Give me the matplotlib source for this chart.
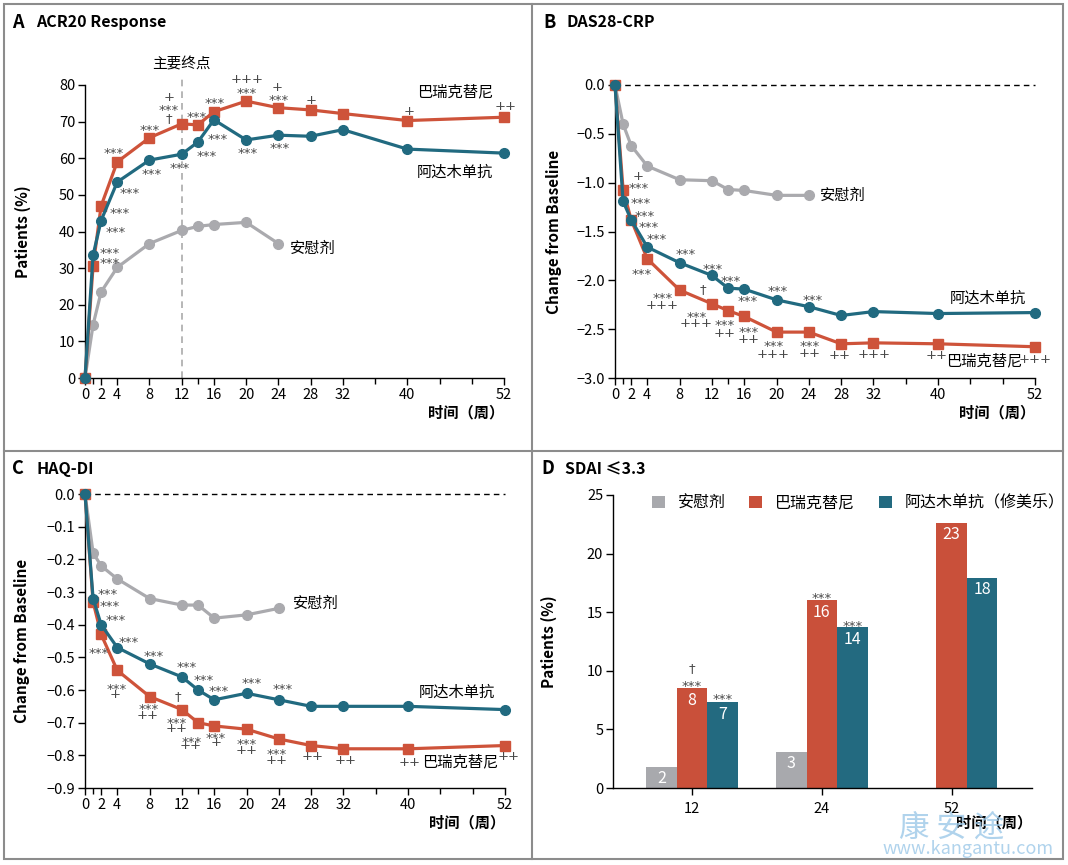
import matplotlib
matplotlib.use("Agg")
import matplotlib.pyplot as plt
from matplotlib.lines import Line2D
from matplotlib.patches import Rectangle
import numpy as np

plt.rcParams['font.family'] = ['Noto Sans CJK SC', 'DejaVu Sans']

# ---------------- data ----------------
weeks = [0, 1, 2, 4, 8, 12, 14, 16, 20, 24, 28, 32, 40, 52]
weeks_pbo = [0, 1, 2, 4, 8, 12, 14, 16, 20, 24]

acr20_bari = [0, 30.5, 47, 59, 65.6, 69.4, 69.1, 72.7, 75.6, 73.8, 73.2, 72.2, 70.3, 71.2]
acr20_ada = [0, 33.5, 43, 53.5, 59.5, 61.1, 64.4, 70.5, 65.0, 66.3, 66.0, 67.8, 62.5, 61.4]
acr20_pbo = [0, 14.5, 23.5, 30.2, 36.7, 40.3, 41.4, 41.9, 42.5, 36.7]

das_bari = [0, -1.07, -1.38, -1.78, -2.10, -2.24, -2.31, -2.37, -2.53, -2.53, -2.65, -2.64, -2.65, -2.68]
das_ada = [0, -1.19, -1.38, -1.66, -1.82, -1.95, -2.08, -2.09, -2.20, -2.27, -2.36, -2.32, -2.34, -2.33]
das_pbo = [0, -0.40, -0.62, -0.83, -0.97, -0.98, -1.07, -1.08, -1.13, -1.13]

haq_bari = [0, -0.33, -0.43, -0.54, -0.62, -0.66, -0.70, -0.71, -0.72, -0.75, -0.77, -0.78, -0.78, -0.77]
haq_ada = [0, -0.32, -0.40, -0.47, -0.52, -0.56, -0.60, -0.63, -0.61, -0.63, -0.65, -0.65, -0.65, -0.66]
haq_pbo = [0, -0.18, -0.22, -0.26, -0.32, -0.34, -0.34, -0.38, -0.37, -0.35]

sdai_weeks = ['12', '24', '52']
sdai_pbo = [1.8, 3.1, np.nan]
sdai_bari = [8.5, 16.0, 22.6]
sdai_ada = [7.3, 13.7, 17.9]
sdai_pbo_lbl = ['2', '3', '']
sdai_bari_lbl = ['8', '16', '23']
sdai_ada_lbl = ['7', '14', '18']

name_pbo = '安慰剂'
name_bari = '巴瑞克替尼'
name_ada = '阿达木单抗'
name_ada_full = '阿达木单抗（修美乐）'

major_ticks = [0, 2, 4, 8, 12, 16, 20, 24, 28, 32, 40, 52]
minor_ticks = [1, 14, 36, 44, 48]

# significance annotations (x, y, text)
ann_A = [(3.6, 62.3, '***'), (5.5, 51.4, '***'), (4.3, 45.9, '***'), (3.8, 40.7, '***'),
         (3.0, 35.0, '***'), (3.0, 32.3, '***'), (8.0, 68.6, '***'), (8.3, 56.5, '***'),
         (10.4, 76.6, '+'), (10.4, 74.1, '***'), (10.4, 70.9, '†'), (11.8, 58.2, '***'),
         (13.9, 72.0, '***'), (15.1, 61.6, '***'), (16.1, 75.9, '***'), (16.5, 66.2, '***'),
         (20.1, 81.4, '+++'), (20.1, 78.6, '***'), (20.2, 62.3, '***'),
         (23.9, 79.4, '+'), (24.0, 76.8, '***'), (24.1, 63.6, '***'),
         (28.1, 75.9, '+'), (40.2, 72.9, '+'), (52.2, 74.1, '++')]
ann_B = [(2.9, -0.94, '+'), (2.9, -1.02, '***'), (3.2, -1.18, '***'), (3.7, -1.31, '***'),
         (4.15, -1.42, '***'), (5.2, -1.54, '***'), (3.3, -1.90, '***'),
         (5.85, -2.15, '***'), (5.85, -2.26, '+++'), (8.7, -1.70, '***'),
         (12.1, -1.85, '***'), (10.9, -2.09, '†'), (10.1, -2.34, '***'), (10.1, -2.44, '+++'),
         (14.3, -1.98, '***'), (13.6, -2.43, '***'), (13.6, -2.54, '++'),
         (16.4, -2.18, '***'), (16.6, -2.50, '***'), (16.6, -2.61, '++'),
         (20.1, -2.08, '***'), (19.6, -2.64, '***'), (19.6, -2.76, '+++'),
         (24.5, -2.17, '***'), (24.1, -2.64, '***'), (24.1, -2.75, '++'),
         (27.8, -2.77, '++'), (32.1, -2.76, '+++'), (39.8, -2.77, '++'), (52.0, -2.81, '+++')]
ann_C = [(2.75, -0.297, '***'), (3.0, -0.332, '***'), (3.8, -0.376, '***'), (1.7, -0.476, '***'),
         (5.4, -0.443, '***'), (3.9, -0.586, '***'), (3.7, -0.614, '+'),
         (8.5, -0.486, '***'), (7.9, -0.649, '***'), (7.7, -0.678, '++'),
         (12.6, -0.52, '***'), (11.5, -0.619, '†'), (11.4, -0.69, '***'), (11.4, -0.719, '++'),
         (14.7, -0.56, '***'), (16.5, -0.595, '***'), (13.2, -0.75, '***'), (13.1, -0.77, '++'),
         (16.2, -0.736, '***'), (16.2, -0.762, '+'), (20.6, -0.57, '***'),
         (20.0, -0.757, '***'), (20.0, -0.785, '++'), (24.5, -0.588, '***'),
         (23.7, -0.785, '***'), (23.7, -0.815, '++'), (28.2, -0.805, '++'),
         (32.3, -0.816, '++'), (40.2, -0.821, '++'), (52.4, -0.805, '++')]

RED = '#CE533A'
TEAL = '#216A80'
GRAY = '#AAAAAE'
ANN = '#4a4a4a'

W, H = 1068, 865
fig = plt.figure(figsize=(W / 100, H / 100), dpi=100)


def ax_at(x0, x1, ytop, ybot):
    return fig.add_axes([x0 / W, 1 - ybot / H, (x1 - x0) / W, (ybot - ytop) / H])


def style_axes(ax):
    for s in ['top', 'right']:
        ax.spines[s].set_visible(False)
    for s in ['left', 'bottom']:
        ax.spines[s].set_linewidth(1.0)
    ax.tick_params(direction='out', length=5, width=1, labelsize=10.5, pad=2)
    ax.tick_params(which='minor', direction='out', length=4, width=1)


def sig_text(ax, x, y, t, zorder=6):
    dy = -2.6 if t == '***' else 0
    ax.annotate(t, (x, y), xytext=(0, dy), textcoords='offset points', ha='center', va='center',
                fontsize=9.5, color=ANN, family=['DejaVu Sans'], zorder=zorder,
                annotation_clip=False)


def line_panel(ax, bari, ada, pbo, ann):
    ax.plot(weeks_pbo, pbo, color=GRAY, lw=2.3, marker='o', ms=7, clip_on=False, zorder=3)
    ax.plot(weeks, bari, color=RED, lw=2.3, marker='s', ms=6.5, clip_on=False, zorder=4)
    ax.plot(weeks, ada, color=TEAL, lw=2.3, marker='o', ms=7, clip_on=False, zorder=5)
    ax.set_xlim(0, 52)
    ax.set_xticks(major_ticks)
    ax.set_xticks(minor_ticks, minor=True)
    style_axes(ax)
    for x, y, t in ann:
        sig_text(ax, x, y, t)
    ax.text(1.0, -0.118, '时间（周）', transform=ax.transAxes, ha='right', va='center',
            fontsize=11, fontweight='bold')


# ---------------- A ----------------
axA = ax_at(85, 504, 85, 378)
line_panel(axA, acr20_bari, acr20_ada, acr20_pbo, ann_A)
axA.set_ylim(0, 80)
axA.set_yticks(range(0, 81, 10))
axA.axvline(12, ymin=0, ymax=82 / 80, color='#aaaaaa', lw=1.2, ls=(0, (4, 3)), clip_on=False, zorder=1)
axA.text(12, 85.5, '主要终点', ha='center', va='center', fontsize=10.5)
axA.text(45.9, 78.2, name_bari, ha='center', va='center', fontsize=11)
axA.text(45.9, 56.1, name_ada, ha='center', va='center', fontsize=11)
axA.text(25.5, 35.5, name_pbo, ha='left', va='center', fontsize=11)
axA.set_ylabel('Patients (%)', fontsize=11, fontweight='bold')
axA.yaxis.set_label_coords(-0.13, 0.5)

# ---------------- B ----------------
axB = ax_at(615, 1035, 85, 378)
line_panel(axB, das_bari, das_ada, das_pbo, ann_B)
axB.set_ylim(-3.0, 0)
axB.set_yticks(np.arange(-3.0, 0.01, 0.5))
axB.set_yticklabels(['−3.0', '−2.5', '−2.0', '−1.5', '−1.0', '−0.5', '0.0'])
axB.plot([0, 52], [0, 0], color='black', lw=1, ls=(0, (4, 3)), zorder=1, clip_on=False)
axB.text(25.4, -1.13, name_pbo, ha='left', va='center', fontsize=11)
axB.text(46.2, -2.18, name_ada, ha='center', va='center', fontsize=11)
axB.text(45.7, -2.82, name_bari, ha='center', va='center', fontsize=11)
axB.set_ylabel('Change from Baseline', fontsize=11, fontweight='bold')
axB.yaxis.set_label_coords(-0.125, 0.5)

# ---------------- C ----------------
axC = ax_at(85, 505, 494, 788)
line_panel(axC, haq_bari, haq_ada, haq_pbo, ann_C)
axC.set_ylim(-0.9, 0)
axC.set_yticks(np.arange(-0.9, 0.01, 0.1))
axC.set_yticklabels(['−0.9', '−0.8', '−0.7', '−0.6', '−0.5', '−0.4', '−0.3', '−0.2', '−0.1', '0.0'])
axC.plot([0, 52], [0, 0], color='black', lw=1, ls=(0, (4, 3)), zorder=1, clip_on=False)
axC.text(25.7, -0.335, name_pbo, ha='left', va='center', fontsize=11)
axC.text(46.1, -0.608, name_ada, ha='center', va='center', fontsize=11)
axC.text(46.5, -0.821, name_bari, ha='center', va='center', fontsize=11)
axC.set_ylabel('Change from Baseline', fontsize=11, fontweight='bold')
axC.yaxis.set_label_coords(-0.13, 0.5)

# ---------------- D ----------------
axD = ax_at(613, 1032, 495, 788)
xpos = np.arange(len(sdai_weeks))
bw = 0.236
b1 = axD.bar(xpos - bw, sdai_pbo, bw, color='#A8A9AD', label=name_pbo)
b2 = axD.bar(xpos, sdai_bari, bw, color='#C9503A', label=name_bari)
b3 = axD.bar(xpos + bw, sdai_ada, bw, color='#236A80', label=name_ada_full)
for bars, lbls in [(b1, sdai_pbo_lbl), (b2, sdai_bari_lbl), (b3, sdai_ada_lbl)]:
    for rect, lab in zip(bars, lbls):
        h = rect.get_height()
        if lab and not np.isnan(h):
            axD.text(rect.get_x() + rect.get_width() / 2, h - 1.0, lab, ha='center', va='center',
                     color='white', fontsize=11.5)
axD.set_xlim(-0.61, 2.62)
axD.set_ylim(0, 25)
axD.set_yticks(range(0, 26, 5))
axD.set_xticks(xpos)
axD.set_xticklabels(sdai_weeks)
style_axes(axD)
axD.tick_params(axis='x', pad=5)
ann_D = [(0, 10.2, '†'), (0, 9.0, '***'), (bw, 7.9, '***'), (1, 16.5, '***'), (1 + bw, 14.1, '***')]
for x, y, t in ann_D:
    sig_text(axD, x, y, t)
axD.set_ylabel('Patients (%)', fontsize=11, fontweight='bold')
axD.yaxis.set_label_coords(-0.134, 0.5)
axD.legend(loc='center', bbox_to_anchor=(0.585, 0.973), ncol=3, frameon=False, fontsize=11.5,
           handlelength=0.8, handleheight=0.8, handletextpad=0.8, columnspacing=1.5)

# watermark
fig.text(952 / W, 1 - 828 / H, '康 安 途', fontsize=22, color='#9CC8E8', ha='center', va='center', alpha=0.8)
fig.text(968 / W, 1 - 849 / H, 'www.kangantu.com', fontsize=13, color='#9CC8E8', ha='center', va='center', alpha=0.8)
axD.text(1.0, -0.118, '时间（周）', transform=axD.transAxes, ha='right', va='center',
         fontsize=11, fontweight='bold', zorder=5)

# ---------------- titles ----------------
title_specs = [(12, 22, 'A', 36, 'ACR20 Response'), (543, 22, 'B', 566, 'DAS28-CRP'),
               (12, 469, 'C', 36, 'HAQ-DI'), (541, 469, 'D', 565, 'SDAI ≤3.3')]
for lx, ly, letter, tx, title in title_specs:
    fig.text(lx / W, 1 - ly / H, letter, fontsize=13, fontweight='bold', va='center', ha='left')
    fig.text(tx / W, 1 - ly / H, title, fontsize=11.5, fontweight='bold', va='center', ha='left')

# ---------------- frame ----------------
fc = '#8c8c8c'
fig.add_artist(Rectangle((4 / W, 1 - 859 / H), (1063 - 4) / W, (859 - 4) / H, transform=fig.transFigure,
                         fill=False, edgecolor=fc, lw=1.5))
fig.add_artist(Line2D([532 / W, 532 / W], [1 - 859 / H, 1 - 4 / H], transform=fig.transFigure, color=fc, lw=1.5))
fig.add_artist(Line2D([4 / W, 1063 / W], [1 - 451 / H, 1 - 451 / H], transform=fig.transFigure, color=fc, lw=1.5))

fig.savefig('out.png', dpi=100)
